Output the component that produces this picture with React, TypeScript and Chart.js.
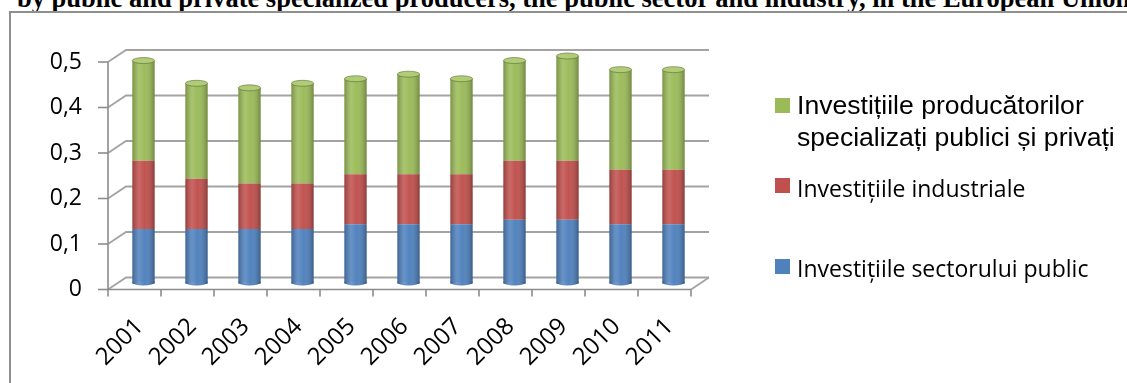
import React, { useEffect, useRef } from 'react';
import { Chart, registerables } from 'chart.js';

Chart.register(...registerables);

const TITLE = 'by public and private specialized producers, the public sector and industry, in the European Union';
const YEARS = ['2001', '2002', '2003', '2004', '2005', '2006', '2007', '2008', '2009', '2010', '2011'];
const PUBLIC_SECTOR = [0.12, 0.12, 0.12, 0.12, 0.13, 0.13, 0.13, 0.14, 0.14, 0.13, 0.13];
const INDUSTRY = [0.15, 0.11, 0.10, 0.10, 0.11, 0.11, 0.11, 0.13, 0.13, 0.12, 0.12];
const SPECIALIZED = [0.22, 0.21, 0.21, 0.22, 0.21, 0.22, 0.21, 0.22, 0.23, 0.22, 0.22];
const Y_TICK_LABELS = ['0', '0,1', '0,2', '0,3', '0,4', '0,5'];
const LABEL_PUBLIC = 'Investițiile sectorului public';
const LABEL_INDUSTRY = 'Investițiile industriale';
const LABEL_SPECIALIZED = ['Investițiile producătorilor', 'specializați publici și privați'];

const BLUE = '#4f81bd';
const RED = '#c0504d';
const GREEN = '#9bbb59';
const CAPS = ['#5b8fcc', '#d4736b', '#b0cc76'];
const GRID = '#a3a3a3';
const DX = 9;
const DY = 6;

const wallsPlugin = {
  id: 'walls3d',
  beforeDatasetsDraw(chart: any) {
    const { ctx, chartArea: a, scales } = chart;
    const x = scales.x;
    const y = scales.y;
    ctx.save();
    ctx.lineWidth = 1.8;
    ctx.strokeStyle = GRID;
    const p0 = y.getPixelForValue(0);
    const pTop = y.getPixelForValue(y.max);
    y.ticks.forEach((t: any) => {
      const py = y.getPixelForValue(t.value);
      ctx.beginPath();
      ctx.moveTo(a.left - DX, py + DY);
      ctx.lineTo(a.left + DX, py - DY);
      ctx.lineTo(a.right + DX, py - DY);
      ctx.stroke();
    });
    ctx.beginPath();
    ctx.moveTo(a.right - DX, p0 + DY);
    ctx.lineTo(a.right + DX, p0 - DY);
    ctx.stroke();
    // front axes
    ctx.strokeStyle = '#8c8c8c';
    ctx.lineWidth = 1.6;
    ctx.beginPath();
    ctx.moveTo(a.left - DX, pTop + DY);
    ctx.lineTo(a.left - DX, p0 + DY);
    ctx.lineTo(a.right - DX, p0 + DY);
    ctx.stroke();
    y.ticks.forEach((t: any) => {
      const py = y.getPixelForValue(t.value) + DY;
      ctx.beginPath();
      ctx.moveTo(a.left - DX - 10, py);
      ctx.lineTo(a.left - DX, py);
      ctx.stroke();
    });
    const n = x.ticks.length;
    for (let i = 0; i <= n; i++) {
      const bx = a.left + ((a.right - a.left) * i) / n - DX;
      ctx.beginPath();
      ctx.moveTo(bx, p0 + DY);
      ctx.lineTo(bx, p0 + DY + 7);
      ctx.stroke();
    }
    // y labels on the front plane
    ctx.fillStyle = '#000';
    ctx.font = '23px "Open Sans"';
    ctx.textAlign = 'right';
    ctx.textBaseline = 'middle';
    y.ticks.forEach((t: any) => {
      const py = y.getPixelForValue(t.value) + DY;
      ctx.fillText(t.label, a.left - DX - 26, py);
    });
    ctx.restore();
  },
  afterDatasetsDraw(chart: any) {
    const { ctx } = chart;
    ctx.save();
    const nd = chart.data.datasets.length;
    chart.data.datasets.forEach((ds: any, di: number) => {
      const meta = chart.getDatasetMeta(di);
      meta.data.forEach((el: any) => {
        const w = el.width;
        const left = el.x - w / 2;
        const top = Math.min(el.y, el.base);
        const bottom = Math.max(el.y, el.base);
        const g = ctx.createLinearGradient(left, 0, left + w, 0);
        g.addColorStop(0, 'rgba(0,0,0,0.22)');
        g.addColorStop(0.3, 'rgba(255,255,255,0.14)');
        g.addColorStop(0.55, 'rgba(255,255,255,0.02)');
        g.addColorStop(1, 'rgba(0,0,0,0.28)');
        if (di === 0) {
          ctx.fillStyle = ds.backgroundColor;
          ctx.beginPath();
          ctx.rect(left, bottom - 2, w, 2);
          ctx.ellipse(el.x, bottom - 1, w / 2, 3, 0, 0, Math.PI);
          ctx.fill();
          ctx.fillStyle = g;
          ctx.beginPath();
          ctx.ellipse(el.x, bottom - 1, w / 2, 3, 0, 0, Math.PI);
          ctx.fill();
        }
        ctx.fillStyle = g;
        ctx.fillRect(left, top, w, bottom - top);
        if (di === nd - 1) {
          ctx.fillStyle = CAPS[di];
          ctx.strokeStyle = 'rgba(90,110,50,0.6)';
          ctx.lineWidth = 1;
          ctx.beginPath();
          ctx.ellipse(el.x, top, w / 2, 3, 0, 0, Math.PI * 2);
          ctx.fill();
          ctx.stroke();
        }
      });
    });
    ctx.restore();
  },
};

export default function App() {
  const ref = useRef<HTMLCanvasElement>(null);
  useEffect(() => {
    const chart = new Chart(ref.current as HTMLCanvasElement, {
      type: 'bar',
      data: {
        labels: YEARS,
        datasets: [
          { label: LABEL_PUBLIC, data: PUBLIC_SECTOR, backgroundColor: BLUE },
          { label: LABEL_INDUSTRY, data: INDUSTRY, backgroundColor: RED },
          { label: LABEL_SPECIALIZED.join(' '), data: SPECIALIZED, backgroundColor: GREEN },
        ],
      },
      options: {
        responsive: false,
        animation: false,
        devicePixelRatio: 1,
        layout: { padding: { left: 117, right: 427, top: 56, bottom: 4.5 } },
        plugins: { legend: { display: false }, title: { display: false }, tooltip: { enabled: false } },
        datasets: { bar: { categoryPercentage: 1, barPercentage: 0.42 } } as any,
        scales: {
          x: {
            stacked: true,
            grid: { display: false, drawTicks: false },
            border: { display: false },
            afterFit: (s: any) => { s.height = 95; },
            ticks: {
              maxRotation: 45,
              minRotation: 45,
              padding: 29,
              labelOffset: -4,
              autoSkip: false,
              color: '#000',
              font: { family: '"Open Sans"', size: 24 },
            },
          },
          y: {
            stacked: true,
            min: 0,
            max: 0.5,
            grid: { display: false, drawTicks: false },
            border: { display: false },
            afterFit: (s: any) => { s.width = 0; },
            ticks: {
              display: false,
              stepSize: 0.1,
              callback: (_v: any, i: number) => Y_TICK_LABELS[i],
            },
          },
        },
      },
      plugins: [wallsPlugin],
    });
    return () => chart.destroy();
  }, []);

  const sq = (color: string, top: number) => (
    <div style={{ position: 'absolute', left: 775, top, width: 15, height: 15, background: color }} />
  );

  return (
    <div style={{ position: 'absolute', left: 0, top: 0, width: 1127, height: 383, overflow: 'hidden', background: '#fff' }}>
      <div style={{ position: 'absolute', left: 17, top: -15, font: 'bold 26.5px "Liberation Serif"', lineHeight: '26.5px', whiteSpace: 'nowrap', color: '#000' }}>{TITLE}</div>
      <div style={{ position: 'absolute', left: 9, top: 11, width: 1300, height: 600, border: '2px solid #8f8f8f' }} />
      <canvas ref={ref} width={1127} height={383} style={{ position: 'absolute', left: 0, top: 0 }} />
      {sq(GREEN, 98)}
      <div style={{ position: 'absolute', left: 797, top: 89, font: '26.6px "Liberation Sans"', lineHeight: '32px', whiteSpace: 'nowrap', color: '#000' }}>
        {LABEL_SPECIALIZED.map((l) => (<div key={l}>{l}</div>))}
      </div>
      {sq(RED, 178)}
      <div style={{ position: 'absolute', left: 797, top: 172, font: '23px "Open Sans"', lineHeight: '32px', whiteSpace: 'nowrap', color: '#000' }}>{LABEL_INDUSTRY}</div>
      {sq(BLUE, 259)}
      <div style={{ position: 'absolute', left: 797, top: 252, font: '23px "Open Sans"', lineHeight: '32px', whiteSpace: 'nowrap', color: '#000' }}>{LABEL_PUBLIC}</div>
    </div>
  );
}
